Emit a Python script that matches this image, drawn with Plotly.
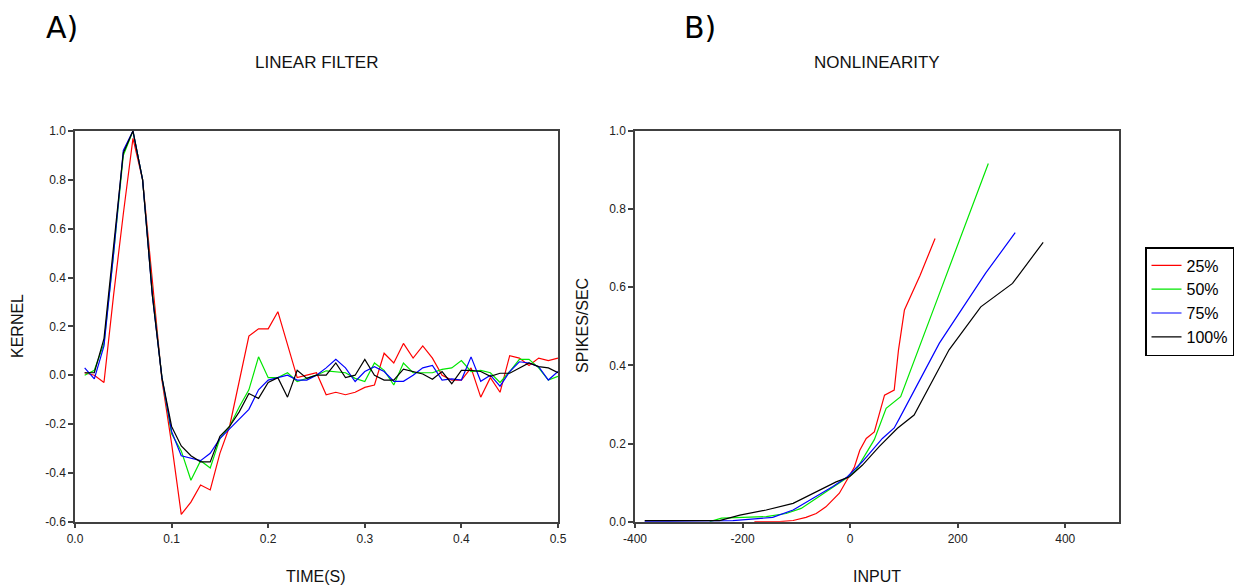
import plotly.graph_objects as go

# ---------------- data: A) linear filter ----------------
time_s = [round(0.01 * i, 2) for i in range(1, 51)]

kernel_25 = [0.01, 0.00, -0.03, 0.33, 0.66, 0.97, 0.80, 0.40, -0.02, -0.28,
             -0.57, -0.52, -0.45, -0.47, -0.32, -0.21, -0.02, 0.16, 0.19, 0.19,
             0.26, 0.12, -0.01, 0.00, 0.01, -0.08, -0.07, -0.08, -0.07, -0.05,
             -0.04, 0.09, 0.05, 0.13, 0.07, 0.12, 0.07, 0.00, -0.02, -0.02,
             0.03, -0.09, -0.01, -0.07, 0.08, 0.07, 0.04, 0.07, 0.06, 0.07]
kernel_50 = [0.00, 0.02, 0.13, 0.50, 0.90, 1.00, 0.80, 0.34, -0.01, -0.24,
             -0.31, -0.43, -0.35, -0.38, -0.26, -0.21, -0.13, -0.06, 0.075, -0.01,
             -0.01, 0.01, -0.026, -0.013, 0.00, 0.018, 0.014, 0.01, -0.013, -0.026,
             0.05, 0.02, -0.04, 0.05, 0.01, 0.01, 0.01, 0.024, 0.03, 0.06,
             0.015, 0.02, 0.01, -0.03, 0.015, 0.065, 0.065, 0.03, -0.02, -0.005]
kernel_75 = [0.03, -0.015, 0.12, 0.50, 0.92, 1.00, 0.80, 0.33, -0.01, -0.23,
             -0.33, -0.34, -0.35, -0.32, -0.26, -0.22, -0.18, -0.14, -0.06, -0.02,
             -0.01, 0.00, -0.02, -0.02, 0.00, 0.03, 0.065, 0.03, -0.026, 0.015,
             0.035, 0.015, -0.025, -0.025, 0.00, 0.03, 0.04, -0.02, -0.015, -0.02,
             0.075, -0.025, 0.00, -0.045, 0.015, 0.055, 0.05, 0.035, -0.02, 0.015]
kernel_100 = [0.01, 0.01, 0.15, 0.52, 0.91, 1.00, 0.80, 0.33, -0.01, -0.21,
              -0.29, -0.33, -0.355, -0.355, -0.25, -0.21, -0.15, -0.075, -0.095, -0.03,
              -0.01, -0.09, 0.02, -0.013, 0.00, 0.00, 0.05, -0.01, 0.00, 0.065,
              0.00, -0.02, -0.02, 0.025, 0.015, 0.005, -0.017, 0.015, -0.035, 0.02,
              0.02, 0.015, -0.005, 0.008, 0.008, 0.03, 0.05, 0.035, 0.03, 0.01]

# ---------------- data: B) nonlinearity ----------------
input_25 = [-178, -131, -106, -82, -63, -45, -20, -4, 8, 18, 30, 45, 64, 82, 90, 101, 130, 158]
rate_25 = [0.0, 0.0, 0.003, 0.011, 0.021, 0.038, 0.073, 0.111, 0.14, 0.183, 0.213, 0.23,
           0.324, 0.337, 0.44, 0.542, 0.63, 0.725]
input_50 = [-261, -239, -156, -119, -91, -63, -32, -7, 11, 45, 67, 94, 165, 257]
rate_50 = [0.0, 0.009, 0.013, 0.021, 0.034, 0.06, 0.09, 0.111, 0.132, 0.21, 0.29, 0.32, 0.58, 0.917]
input_75 = [-382, -218, -144, -106, -69, -32, -5, 23, 60, 82, 92, 166, 252, 307]
rate_75 = [0.0, 0.003, 0.011, 0.03, 0.06, 0.09, 0.115, 0.154, 0.213, 0.24, 0.265, 0.457, 0.636, 0.74]
input_100 = [-382, -243, -205, -156, -106, -57, -26, -1, 23, 54, 88, 119, 184, 243, 302, 359]
rate_100 = [0.003, 0.003, 0.017, 0.03, 0.047, 0.081, 0.102, 0.115, 0.145, 0.192, 0.239, 0.273,
            0.44, 0.55, 0.61, 0.715]

series_names = ["25%", "50%", "75%", "100%"]
series_colors = ["#ff0000", "#00e600", "#0000ff", "#000000"]

# tick values / labels
kernel_ticks = [-0.6, -0.4, -0.2, 0, 0.2, 0.4, 0.6, 0.8, 1.0]
kernel_ticklabels = ["-0.6", "-0.4", "-0.2", "0.0", "0.2", "0.4", "0.6", "0.8", "1.0"]
time_ticks = [0, 0.1, 0.2, 0.3, 0.4, 0.5]
time_ticklabels = ["0.0", "0.1", "0.2", "0.3", "0.4", "0.5"]
input_ticks = [-400, -200, 0, 200, 400]
input_ticklabels = ["-400", "-200", "0", "200", "400"]
rate_ticks = [0, 0.2, 0.4, 0.6, 0.8, 1.0]
rate_ticklabels = ["0.0", "0.2", "0.4", "0.6", "0.8", "1.0"]

kernels = [kernel_25, kernel_50, kernel_75, kernel_100]
inputs = [input_25, input_50, input_75, input_100]
rates = [rate_25, rate_50, rate_75, rate_100]

fig = go.Figure()

for name, col, k in zip(series_names, series_colors, kernels):
    fig.add_trace(go.Scatter(x=time_s, y=k, mode="lines", name=name, showlegend=False,
                             line=dict(color=col, width=1.2), xaxis="x", yaxis="y"))

for name, col, xi, yi in zip(series_names, series_colors, inputs, rates):
    fig.add_trace(go.Scatter(x=xi, y=yi, mode="lines", name=name, showlegend=True,
                             line=dict(color=col, width=1.2), xaxis="x2", yaxis="y2"))

W, H = 1248, 586
ax_common = dict(showline=True, linecolor="#404040", linewidth=1.5, mirror=True,
                 ticks="outside", ticklen=5, tickwidth=1.5, tickcolor="#404040",
                 showgrid=False, zeroline=False, automargin=False,
                 tickfont=dict(family="Liberation Sans, Arial, sans-serif", size=12, color="#222222"))

y_dom = [1 - 521.7 / H, 1 - 131 / H]

fig.update_layout(
    width=W, height=H,
    margin=dict(l=0, r=0, t=0, b=0, autoexpand=False),
    paper_bgcolor="white", plot_bgcolor="white",
    xaxis=dict(domain=[75 / W, 558 / W], range=[0, 0.5], tickvals=time_ticks, ticktext=time_ticklabels,
               anchor="y", **ax_common),
    yaxis=dict(domain=y_dom, range=[-0.6, 1.0], tickvals=kernel_ticks, ticktext=kernel_ticklabels,
               anchor="x", **ax_common),
    xaxis2=dict(domain=[635 / W, 1119 / W], range=[-400, 500], tickvals=input_ticks,
                ticktext=input_ticklabels, anchor="y2", **ax_common),
    yaxis2=dict(domain=y_dom, range=[0, 1.0], tickvals=rate_ticks, ticktext=rate_ticklabels,
                anchor="x2", **ax_common),
    legend=dict(x=1145 / W, y=1 - 247 / H, xanchor="left", yanchor="top",
                bordercolor="#000000", borderwidth=1.5, bgcolor="white",
                font=dict(family="Liberation Sans, Arial, sans-serif", size=16, color="#000000")),
    showlegend=True,
)

lab_font = dict(family="Liberation Sans, Arial, sans-serif", size=16, color="#111111")
title_font = dict(family="Liberation Sans, Arial, sans-serif", size=17, color="#111111")
panel_font = dict(family="DejaVu Sans, sans-serif", size=30, color="#000000")

ann = [
    dict(text="A)", x=44 / W, y=1 - 27 / H, xanchor="left", yanchor="middle", font=panel_font),
    dict(text="B)", x=682 / W, y=1 - 27 / H, xanchor="left", yanchor="middle", font=panel_font),
    dict(text="LINEAR FILTER", x=316 / W, y=1 - 62 / H, xanchor="center", yanchor="middle", font=title_font),
    dict(text="NONLINEARITY", x=877 / W, y=1 - 62 / H, xanchor="center", yanchor="middle", font=title_font),
    dict(text="TIME(S)", x=316 / W, y=1 - 576 / H, xanchor="center", yanchor="middle", font=lab_font),
    dict(text="INPUT", x=877 / W, y=1 - 576 / H, xanchor="center", yanchor="middle", font=lab_font),
    dict(text="KERNEL", x=18 / W, y=1 - 326 / H, xanchor="center", yanchor="middle", textangle=-90, font=lab_font),
    dict(text="SPIKES/SEC", x=583 / W, y=1 - 326 / H, xanchor="center", yanchor="middle", textangle=-90, font=lab_font),
]
for a in ann:
    a.update(xref="paper", yref="paper", showarrow=False)
fig.update_layout(annotations=ann)

fig.write_html("out.html")
